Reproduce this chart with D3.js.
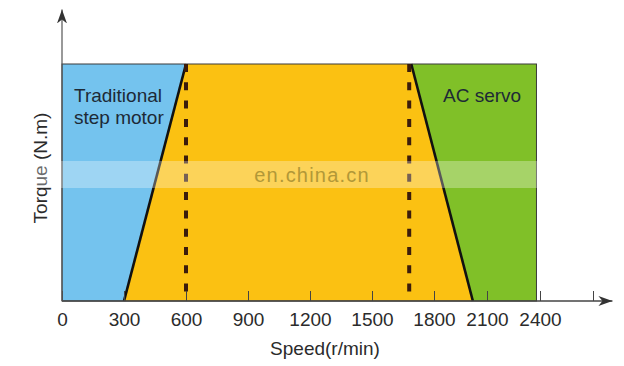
<!DOCTYPE html>
<html>
<head>
<meta charset="utf-8">
<script src="https://cdn.jsdelivr.net/npm/d3@7"></script>
<style>
  body { margin: 0; background: #fff; }
  svg { display: block; font-family: "Liberation Sans", Arial, sans-serif; }
</style>
</head>
<body>
<div id="chart"></div>
<script>
// speed in r/min, torque as a share of rated torque
const speedTicks = [0, 300, 600, 900, 1200, 1500, 1800, 2100, 2400];
const extraTick = 2700;
const maxSpeed = 2380;
const stepMotorEdge = [[300, 0], [600, 1]];
const servoEdge = [[1690, 1], [2020, 0]];
const dashSpeeds = [600, 1680];
const stepMotorText = ["Traditional", "step motor"];
const servoText = ["AC servo"];

const width = 624, height = 366;

const svg = d3.select("#chart").append("svg")
    .attr("width", width)
    .attr("height", height);

// the drawn axis is not evenly spaced past 1800
const x = d3.scaleLinear().domain([0, 1800, 2400]).range([62, 434, 540]);
const y = d3.scaleLinear().domain([0, 1]).range([301, 64]);

const line = d3.line().x(d => x(d[0])).y(d => y(d[1]));

svg.append("defs").append("marker")
    .attr("id", "arrow")
    .attr("viewBox", "-14 -6 16 12")
    .attr("refX", 0).attr("refY", 0)
    .attr("markerWidth", 16).attr("markerHeight", 12)
    .attr("markerUnits", "userSpaceOnUse")
    .attr("orient", "auto")
    .append("path")
    .attr("d", "M0,0 L-14,-5 L-10,0 L-14,5 Z")
    .attr("fill", "#333");

// middle (yellow) area
svg.append("rect")
    .attr("x", x(0)).attr("y", y(1))
    .attr("width", x(maxSpeed) - x(0))
    .attr("height", y(0) - y(1))
    .attr("fill", "#fbc112");

// step motor area
svg.append("path")
    .attr("d", line([[0, 0], ...stepMotorEdge, [0, 1]]) + "Z")
    .attr("fill", "#74c3ee");

// servo area
svg.append("path")
    .attr("d", line([...servoEdge, [maxSpeed, 0], [maxSpeed, 1]]) + "Z")
    .attr("fill", "#80c028");

svg.append("rect")
    .attr("x", x(0)).attr("y", y(1))
    .attr("width", x(maxSpeed) - x(0))
    .attr("height", y(0) - y(1))
    .attr("fill", "none")
    .attr("stroke", "#3a3a3a")
    .attr("stroke-width", 1);

[stepMotorEdge, servoEdge].forEach(e => {
    svg.append("path")
        .attr("d", line(e))
        .attr("stroke", "#111")
        .attr("stroke-width", 2.6)
        .attr("fill", "none");
});

svg.selectAll(".dash")
    .data(dashSpeeds)
    .enter()
    .append("line")
    .attr("class", "dash")
    .attr("x1", d => x(d)).attr("x2", d => x(d))
    .attr("y1", y(1)).attr("y2", y(0))
    .attr("stroke", "#3b1c0c")
    .attr("stroke-width", 4)
    .attr("stroke-dasharray", "8,10.3");

// region names
const label = (lines, lx, ly) => {
    const t = svg.append("text")
        .attr("x", lx).attr("y", ly)
        .attr("font-size", 19)
        .attr("fill", "#1d2a36");
    lines.forEach((s, i) => {
        t.append("tspan").attr("x", lx).attr("dy", i ? 22 : 0).text(s);
    });
};
label(stepMotorText, 74, 102);
label(servoText, 443, 102);

// x axis
const xAxis = d3.axisBottom(x)
    .tickValues([...speedTicks, extraTick])
    .tickSizeInner(-10)
    .tickSizeOuter(0)
    .tickPadding(12)
    .tickFormat(d => speedTicks.includes(d) ? d : "");

const gx = svg.append("g")
    .attr("transform", "translate(0," + y(0) + ")")
    .call(xAxis);
gx.select(".domain").remove();
gx.selectAll(".tick line").attr("stroke", "#444");
gx.selectAll(".tick text")
    .attr("font-size", 19)
    .attr("font-family", "Liberation Sans, Arial, sans-serif")
    .attr("fill", "#2b2b2b");

svg.append("line")
    .attr("x1", x(0)).attr("x2", x(2810))
    .attr("y1", y(0)).attr("y2", y(0))
    .attr("stroke", "#444")
    .attr("stroke-width", 1.6)
    .attr("marker-end", "url(#arrow)");

// y axis
svg.append("line")
    .attr("x1", x(0)).attr("x2", x(0))
    .attr("y1", y(0)).attr("y2", y(1.23))
    .attr("stroke", "#555")
    .attr("stroke-width", 1.2)
    .attr("marker-end", "url(#arrow)");

svg.append("text")
    .attr("x", (x(0) + x(2400)) / 2 + 24)
    .attr("y", 355)
    .attr("text-anchor", "middle")
    .attr("font-size", 19)
    .attr("fill", "#2b2b2b")
    .text("Speed(r/min)");

svg.append("text")
    .attr("transform", "translate(47," + 168 + ") rotate(-90)")
    .attr("text-anchor", "middle")
    .attr("font-size", 19)
    .attr("fill", "#2b2b2b")
    .text("Torque (N.m)");

// watermark band
svg.append("rect")
    .attr("x", 30).attr("y", 161)
    .attr("width", 520).attr("height", 27)
    .attr("fill", "#fff")
    .attr("opacity", 0.3);

svg.append("text")
    .attr("x", 312).attr("y", 182)
    .attr("text-anchor", "middle")
    .attr("font-size", 20)
    .attr("letter-spacing", 1.2)
    .attr("fill", "#a08a30")
    .attr("opacity", 0.8)
    .text("en.china.cn");
</script>
</body>
</html>
